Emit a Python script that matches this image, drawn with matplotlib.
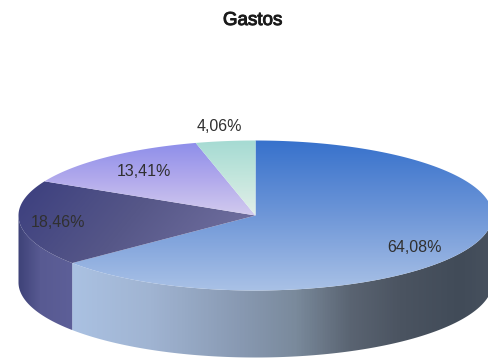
import numpy as np
import matplotlib
matplotlib.use("Agg")
import matplotlib.pyplot as plt
import matplotlib.patheffects as pe
from matplotlib.colors import LinearSegmentedColormap
from matplotlib.patches import Polygon

plt.rcParams['font.family'] = ['Liberation Sans', 'DejaVu Sans']

# Data (clockwise from 12 o'clock)
title = "Gastos"
values = [64.08, 18.46, 13.41, 4.06]

# Style
CX, CY, RX, RY, DEPTH = 255, 215, 237, 75, 67
top_styles = [
    (["#3872cc", "#6f97d8", "#a9c1e6"], (0.0, 1.0), (141, 290)),
    (["#3f4280", "#565788", "#6f6e9e"], (0.55, 0.45), (0, 1)),
    (["#8f8fea", "#b2aaec", "#d2cbee"], (0.0, 1.0), (143, 215)),
    (["#a6dbd3", "#c4e6dd", "#e2efe9"], (0.0, 1.0), (141, 215)),
]
side_stops = [(72, "#aac1e2"), (150, "#a0b4d2"), (240, "#8899b2"), (295, "#7a8a9c"),
              (350, "#5a6472"), (400, "#4b5461"), (460, "#414b58"), (489, "#46505e")]
dark_side_stops = [(18, "#3e4278"), (40, "#585a92"), (72, "#5d5f98")]
label_pos = [(414, 247), (57, 222), (143, 171), (219, 126)]


def pt(a, dy=0.0):
    a = np.asarray(a)
    return CX + RX * np.sin(a), CY - RY * np.cos(a) + dy


def arc(a0, a1, n=200):
    return np.linspace(a0, a1, n)


def gradient(ax, clip_xy, colors, vec, rng, stops_x=None):
    xs, ys = np.meshgrid(np.arange(0, 490), np.arange(0, 359))
    if stops_x is not None:
        lo, hi = stops_x[0][0], stops_x[-1][0]
        t = (xs - lo) / (hi - lo)
        cmap = LinearSegmentedColormap.from_list(
            "g", [((x - lo) / (hi - lo), c) for x, c in stops_x])
    else:
        cmap = LinearSegmentedColormap.from_list("g", colors)
        if rng == (0, 1):
            # normalise the mixed direction over the polygon's own extent
            px, py = clip_xy[:, 0], clip_xy[:, 1]
            s = vec[0] * xs + vec[1] * ys
            sp = vec[0] * px + vec[1] * py
            t = (s - sp.min()) / (sp.max() - sp.min())
        else:
            t = (ys - rng[0]) / (rng[1] - rng[0])
    im = ax.imshow(np.clip(t, 0, 1), cmap=cmap, vmin=0, vmax=1,
                   extent=(-0.5, 489.5, 358.5, -0.5), interpolation="bilinear", zorder=2)
    patch = Polygon(clip_xy, closed=True, transform=ax.transData,
                    facecolor="none", edgecolor="none")
    ax.add_patch(patch)
    im.set_clip_path(patch)


fig = plt.figure(figsize=(4.89, 3.58), dpi=100, facecolor="white")
ax = fig.add_axes([0, 0, 1, 1])

# Slice angles from the values
fracs = np.array(values) / sum(values)
edges = np.concatenate([[0], np.cumsum(fracs)]) * 2 * np.pi

# Side walls: the visible front part runs from 90 deg to 270 deg clockwise
a_blue = arc(np.pi / 2, edges[1])
a_dark = arc(edges[1], 3 * np.pi / 2)
for a, stops in ((a_blue, side_stops), (a_dark, dark_side_stops)):
    x, y = pt(a)
    xb, yb = pt(a[::-1], DEPTH)
    poly = np.column_stack([np.r_[x, xb], np.r_[y, yb]])
    gradient(ax, poly, None, None, None, stops_x=stops)

# Top faces
for i, (colors, vec, rng) in enumerate(top_styles):
    a = arc(edges[i], edges[i + 1])
    x, y = pt(a)
    poly = np.column_stack([np.r_[CX, x], np.r_[CY, y]])
    gradient(ax, poly, colors, vec, rng)

# Labels
for v, (lx, ly) in zip(values, label_pos):
    ax.text(lx, ly, f"{v:.2f}%".replace(".", ","), ha="center", va="center",
            fontsize=11.5, color="#303030", zorder=5)
ax.text(252, 20, title, ha="center", va="center", fontsize=13.5,
        color="#1a1a1a", zorder=5,
        path_effects=[pe.withStroke(linewidth=0.7, foreground="#1a1a1a")])

ax.set_xlim(-0.5, 488.5)
ax.set_ylim(357.5, -0.5)
ax.set_aspect("auto")
ax.axis("off")
fig.savefig("out.png", dpi=100, facecolor="white")
